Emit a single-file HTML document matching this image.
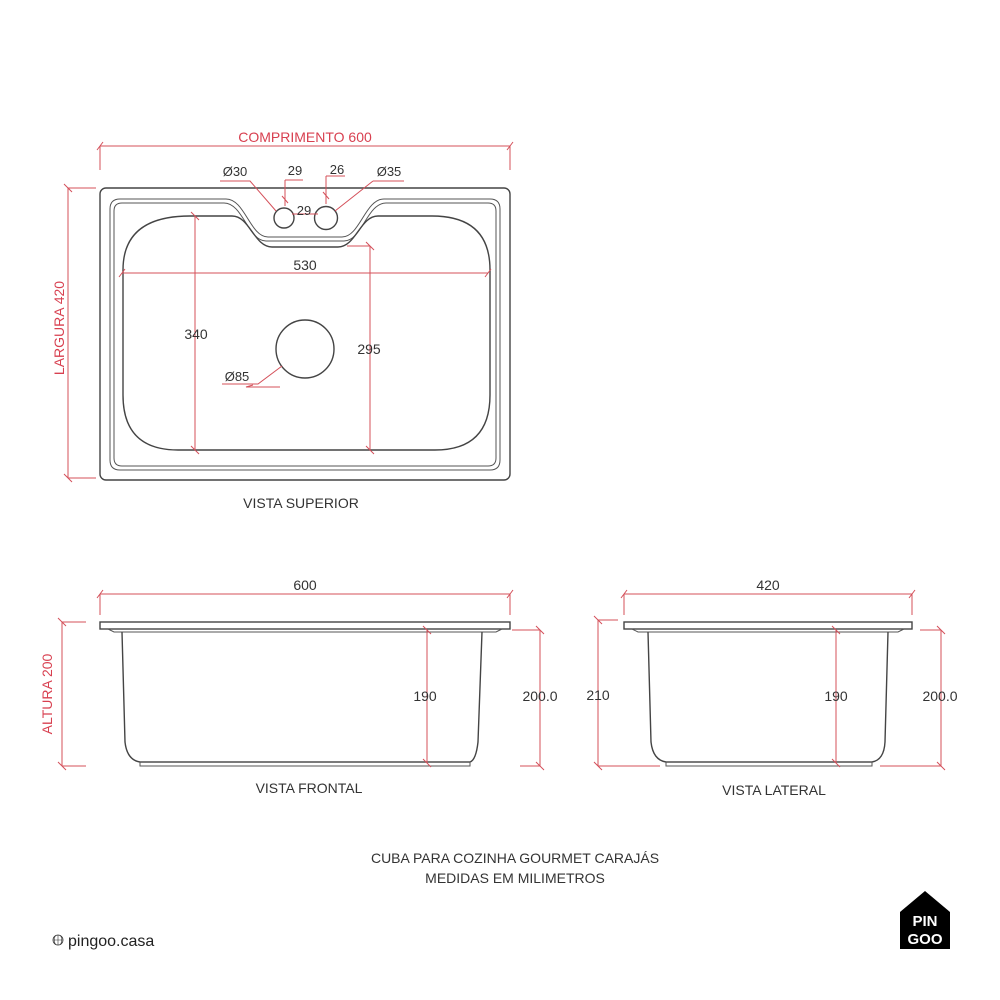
<!DOCTYPE html>
<html><head><meta charset="utf-8"><style>
html,body{margin:0;padding:0;background:#fff;}
svg{display:block;}
text{font-family:"Liberation Sans",sans-serif;fill:#333;}
.r{stroke:#d4505a;stroke-width:1;fill:none;}
.k{stroke:#444;stroke-width:1.4;fill:none;}
.kt{stroke:#555;stroke-width:1;fill:none;}
.rt{fill:#d84050;}
</style></head><body>
<svg width="1000" height="1000" viewBox="0 0 1000 1000">
<!-- TOP VIEW -->
<rect x="100" y="188" width="410" height="292" rx="6" class="k"/>
<path class="kt" d="M120 199 H226 C245 199 250 237 268 237 H342 C360 237 365 199 384 199 H490 Q500 199 500 209 V460 Q500 470 490 470 H120 Q110 470 110 460 V209 Q110 199 120 199 Z"/>
<path class="kt" d="M122 203 H224 C243 203 248 241 266 241 H344 C362 241 367 203 386 203 H488 Q496 203 496 211 V458 Q496 466 488 466 H122 Q114 466 114 458 V211 Q114 203 122 203 Z"/>
<path class="k" d="M190 216 H232 C250 216 254 247 272 247 H338 C356 247 360 216 378 216 H432 Q490 216 490 270 V395 Q490 450 435 450 H178 Q123 450 123 395 V270 Q123 216 190 216 Z"/>
<circle cx="284" cy="218" r="10" class="k"/>
<circle cx="326" cy="218" r="11.5" class="k"/>
<circle cx="305" cy="349" r="29" class="k"/>
<!-- red dims top -->
<path class="r" d="M100 146 H510 M100 146 V170 M510 146 V170 M97 150 L103 142 M507 150 L513 142"/>
<text x="305" y="142" font-size="14" text-anchor="middle" class="rt">COMPRIMENTO 600</text>
<path class="r" d="M68 188 V478 M64 184 L72 192 M64 474 L72 482 M68 188 H96 M68 478 H96"/>
<text transform="translate(64,328) rotate(-90)" font-size="14" text-anchor="middle" class="rt">LARGURA 420</text>
<path class="r" d="M122 273 H488 M119 277 L125 269 M485 277 L491 269"/>
<path class="r" d="M195 216 V450 M191 212 L199 220 M191 446 L199 454"/>
<path class="r" d="M370 246 V450 M347 246 H370 M366 242 L374 250 M366 446 L374 454"/>
<path class="r" d="M220 181 H250 L276 211 M285 180 H303 M285 180 V206 M282 196 L288 203 M326 176 H345 M326 176 V204 M323 192 L329 199 M373 181 H404 M373 181 L335 211 M292 214 L318 214 M280 387 H246 L253 385 M222 384 H258 L282 366"/>
<text x="235" y="176" font-size="13" text-anchor="middle">Ø30</text>
<text x="295" y="175" font-size="13" text-anchor="middle">29</text>
<text x="337" y="174" font-size="13" text-anchor="middle">26</text>
<text x="389" y="176" font-size="13" text-anchor="middle">Ø35</text>
<text x="304" y="215" font-size="13" text-anchor="middle">29</text>
<text x="305" y="270" font-size="14" text-anchor="middle">530</text>
<text x="196" y="339" font-size="14" text-anchor="middle">340</text>
<text x="369" y="354" font-size="14" text-anchor="middle">295</text>
<text x="237" y="381" font-size="13" text-anchor="middle">Ø85</text>
<text x="301" y="508" font-size="14" text-anchor="middle">VISTA SUPERIOR</text>

<!-- FRONT VIEW -->
<rect x="100" y="622" width="410" height="7" class="k"/>
<path class="kt" d="M108 629 L114 632 H496 L502 629"/>
<path class="k" d="M122 632 L125 742 Q127 760 140 762 H470 Q476 760 478 742 L482 632"/>
<rect x="140" y="762" width="330" height="4" class="kt"/>
<path class="r" d="M100 594 H510 M100 594 V615 M510 594 V615 M97 598 L103 590 M507 598 L513 590"/>
<text x="305" y="590" font-size="14" text-anchor="middle">600</text>
<path class="r" d="M62 622 V766 M58 618 L66 626 M58 762 L66 770 M62 622 H86 M62 766 H86"/>
<text transform="translate(52,694) rotate(-90)" font-size="14" text-anchor="middle" class="rt">ALTURA 200</text>
<path class="r" d="M427 630 V763 M423 626 L431 634 M423 759 L431 767"/>
<text x="425" y="701" font-size="14" text-anchor="middle">190</text>
<path class="r" d="M540 630 V766 M512 630 H540 M520 766 H540 M536 626 L544 634 M536 762 L544 770"/>
<text x="540" y="701" font-size="14" text-anchor="middle">200.0</text>
<text x="309" y="793" font-size="14" text-anchor="middle">VISTA FRONTAL</text>

<!-- LATERAL VIEW -->
<rect x="624" y="622" width="288" height="7" class="k"/>
<path class="kt" d="M632 629 L638 632 H898 L904 629"/>
<path class="k" d="M648 632 L651 742 Q653 760 666 762 H872 Q884 760 885 742 L888 632"/>
<rect x="666" y="762" width="206" height="4" class="kt"/>
<path class="r" d="M624 594 H912 M624 594 V615 M912 594 V615 M621 598 L627 590 M909 598 L915 590"/>
<text x="768" y="590" font-size="14" text-anchor="middle">420</text>
<path class="r" d="M598 620 V766 M594 616 L602 624 M594 762 L602 770 M598 620 H618 M598 766 H660"/>
<text x="598" y="700" font-size="14" text-anchor="middle">210</text>
<path class="r" d="M836 630 V763 M832 626 L840 634 M832 759 L840 767"/>
<text x="836" y="701" font-size="14" text-anchor="middle">190</text>
<path class="r" d="M941 630 V766 M920 630 H941 M880 766 H941 M937 626 L945 634 M937 762 L945 770"/>
<text x="940" y="701" font-size="14" text-anchor="middle">200.0</text>
<text x="774" y="795" font-size="14" text-anchor="middle">VISTA LATERAL</text>

<text x="515" y="863" font-size="14" text-anchor="middle">CUBA PARA COZINHA GOURMET CARAJÁS</text>
<text x="515" y="883" font-size="14" text-anchor="middle">MEDIDAS EM MILIMETROS</text>

<!-- footer -->
<circle cx="58" cy="940" r="5" fill="none" stroke="#333" stroke-width="0.8"/>
<path d="M53 940 H63 M58 935 V945 M55.5 935.5 Q53 940 55.5 944.5 M60.5 935.5 Q63 940 60.5 944.5" stroke="#333" stroke-width="0.6" fill="none"/>
<text x="68" y="946" font-size="16" style="fill:#222">pingoo.casa</text>
<path d="M900 912 L925 891 L950 912 V949 H900 Z" fill="#000"/>
<text x="925" y="926" font-size="15" font-weight="bold" text-anchor="middle" style="fill:#fff">PIN</text>
<text x="925" y="944" font-size="15" font-weight="bold" text-anchor="middle" style="fill:#fff">GOO</text>
</svg>
</body></html>
